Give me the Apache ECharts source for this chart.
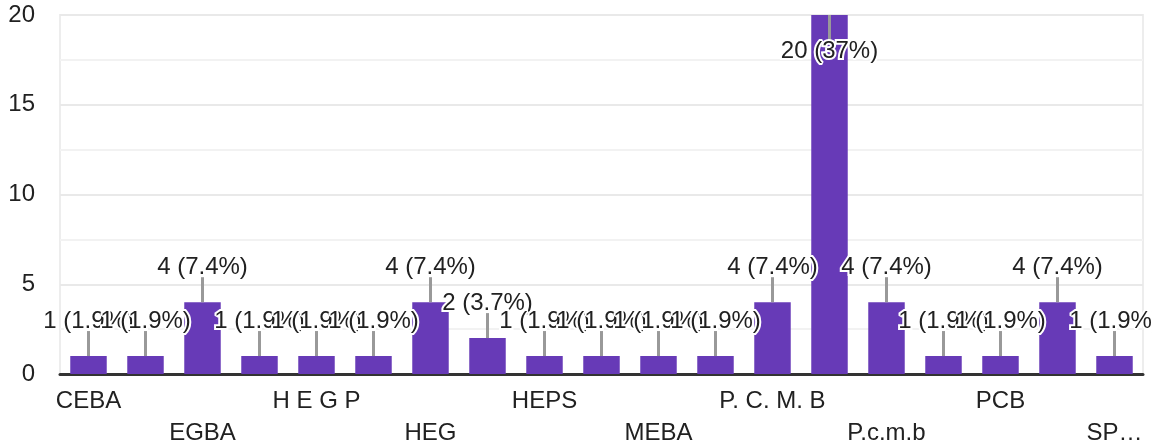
<!DOCTYPE html>
<html>
<head>
<meta charset="utf-8">
<script src="https://cdn.jsdelivr.net/npm/echarts@6/dist/echarts.min.js"></script>
<style>
html,body{margin:0;padding:0;background:#fff;}
#chart{width:1152px;height:448px;}
</style>
</head>
<body>
<div id="chart"></div>
<script>
const categories = ['CEBA','CEC','EGBA','EGHA','H E G P','H.E.G','HEG','HEP','HEPS','HGPS','MEBA','MPC','P. C. M. B','P.C.M.B','P.c.m.b','P.C.B','PCB','PCMB','SP…'];
const counts = [1,1,4,1,1,1,4,2,1,1,1,1,4,20,4,1,1,4,1];
const yTicks = [0,5,10,15,20];

const total = counts.reduce((a,b)=>a+b,0);
const FONT = '"Liberation Sans", Arial, sans-serif';
const TEXT = '#212121';

const chart = echarts.init(document.getElementById('chart'), null, {renderer:'canvas'});
chart.setOption({
  animation:false,
  backgroundColor:'#ffffff',
  grid:{left:60,right:9,top:15,bottom:74,containLabel:false,outerBoundsMode:'none',show:true,borderColor:'#ededed',borderWidth:2,backgroundColor:'transparent'},
  xAxis:{
    type:'category',
    data:categories,
    axisLine:{show:true,lineStyle:{color:'#333333',width:3}},
    axisTick:{show:false},
    axisLabel:{
      interval:1,
      margin:11,
      color:TEXT,
      fontFamily:FONT,
      fontSize:24,
      lineHeight:32,
      formatter:function(v,i){ return (i%4===2) ? '\n'+v : v; }
    }
  },
  yAxis:{
    type:'value',
    min:yTicks[0],
    max:yTicks[yTicks.length-1],
    interval:5,
    axisLine:{show:false},
    axisTick:{show:false},
    axisLabel:{color:TEXT,fontFamily:FONT,fontSize:24,margin:25},
    splitLine:{show:true,lineStyle:{color:'#e9e9e9',width:2}},
    minorTick:{show:false,splitNumber:2},
    minorSplitLine:{show:true,lineStyle:{color:'#f2f2f2',width:2}}
  },
  series:[
    {
      type:'bar',
      data:counts,
      barWidth:'64%',
      itemStyle:{color:'#673ab7'},
      z:2
    },
    {
      type:'custom',
      data:counts.map((v,i)=>[i,v]),
      z:5,
      renderItem:function(params, api){
        const i = api.value(0), v = api.value(1);
        const p = api.coord([i, v]);
        const gridTop = params.coordSys.y;
        const pct = Number((v/total*100).toPrecision(2));
        const txt = v + ' (' + pct + '%)';
        const flip = (p[1] - 24 - 24) < gridTop;
        const lineLen = 25;
        const y2 = flip ? p[1] + lineLen : p[1] - lineLen;
        return {
          type:'group',
          children:[
            {type:'line',shape:{x1:p[0],y1:p[1],x2:p[0],y2:y2},style:{stroke:'#999999',lineWidth:3}},
            {type:'text',x:p[0],y:flip ? y2 - 1 : y2 + 2,style:{
              text:txt,fill:TEXT,font:'24px ' + FONT,
              align:'center',verticalAlign:flip?'top':'bottom',
              stroke:'#ffffff',lineWidth:4
            }}
          ]
        };
      }
    }
  ]
});
</script>
</body>
</html>
